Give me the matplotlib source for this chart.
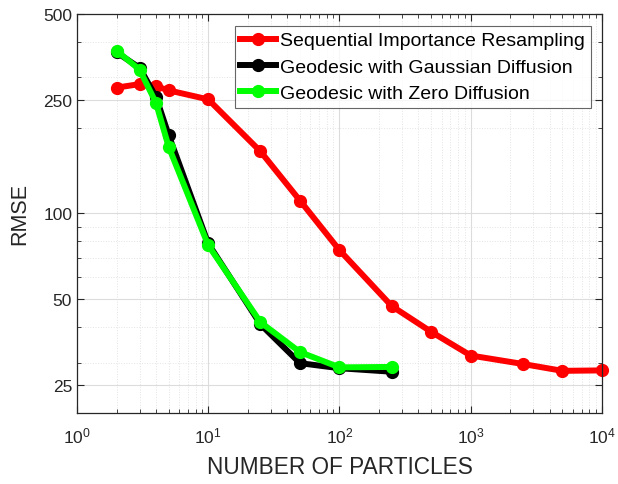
import matplotlib
matplotlib.use("Agg")
import matplotlib.pyplot as plt
from matplotlib.ticker import LogLocator, FixedLocator, NullFormatter, FixedFormatter

plt.rcParams['font.family'] = ['Liberation Sans', 'DejaVu Sans']

# Data
n_sir = [2, 3, 4, 5, 10, 25, 50, 100, 250, 500, 1000, 2500, 5000, 10000]
rmse_sir = [276, 284, 279, 270, 251, 165, 111, 74.4, 47.4, 38.5, 31.8, 29.7, 28.1, 28.2]

n_geo = [2, 3, 4, 5, 10, 25, 50, 100, 250]
rmse_gauss = [367, 324, 256, 188, 78.5, 40.9, 29.9, 28.7, 27.9]
rmse_zero = [372, 319, 244, 171, 77.4, 41.6, 32.7, 28.9, 29.0]

labels = ["Sequential Importance Resampling",
          "Geodesic with Gaussian Diffusion",
          "Geodesic with Zero Diffusion"]
colors = ["#ff0000", "#000000", "#00ff00"]

yticks = [25, 50, 100, 250, 500]

fig = plt.figure(figsize=(6.18, 4.85), dpi=100)
ax = fig.add_axes([0.1246, 0.1464, 0.8494, 0.8227])

lw = 4.3
ms = 8.5
for xs, ys, c, lab in [(n_sir, rmse_sir, colors[0], labels[0]),
                       (n_geo, rmse_gauss, colors[1], labels[1]),
                       (n_geo, rmse_zero, colors[2], labels[2])]:
    ax.plot(xs, ys, '-o', color=c, lw=lw, ms=ms, label=lab, clip_on=False)

ax.set_xscale('log')
ax.set_yscale('log')
ax.set_xlim(1, 1e4)
ax.set_ylim(20, 500)

ax.yaxis.set_major_locator(FixedLocator(yticks))
ax.yaxis.set_major_formatter(FixedFormatter([str(v) for v in yticks]))
ax.yaxis.set_minor_locator(LogLocator(base=10, subs=range(2, 10)))
ax.yaxis.set_minor_formatter(NullFormatter())
ax.xaxis.set_major_locator(LogLocator(base=10, numticks=10))
ax.xaxis.set_minor_locator(LogLocator(base=10, subs=range(2, 10), numticks=20))
ax.xaxis.set_minor_formatter(NullFormatter())

ax.grid(True, which='major', color='#dcdcdc', lw=0.8, ls='-')
ax.grid(True, which='minor', color='#e4e4e4', lw=0.7, ls=':')
ax.set_axisbelow(True)

tc = '#262626'
ax.tick_params(which='both', direction='in', top=True, right=True, colors=tc, labelsize=12.5)
ax.tick_params(which='major', length=5, width=0.8)
ax.tick_params(which='minor', length=3, width=0.6)
ax.tick_params(axis='x', pad=9)
for s in ax.spines.values():
    s.set_color(tc)
    s.set_linewidth(0.9)

ax.set_xlabel("NUMBER OF PARTICLES", fontsize=16.3, color=tc, labelpad=7)
ax.set_ylabel("RMSE", fontsize=15.5, color=tc, labelpad=9)

leg = ax.legend(loc='upper right', fontsize=14, frameon=True, fancybox=False,
                edgecolor='#404040', borderpad=0.3, labelspacing=0.45,
                handlelength=1.85, handletextpad=0.2, borderaxespad=0,
                bbox_to_anchor=(0.979, 0.970))
leg.get_frame().set_linewidth(0.8)

fig.savefig("out.png", dpi=100)
